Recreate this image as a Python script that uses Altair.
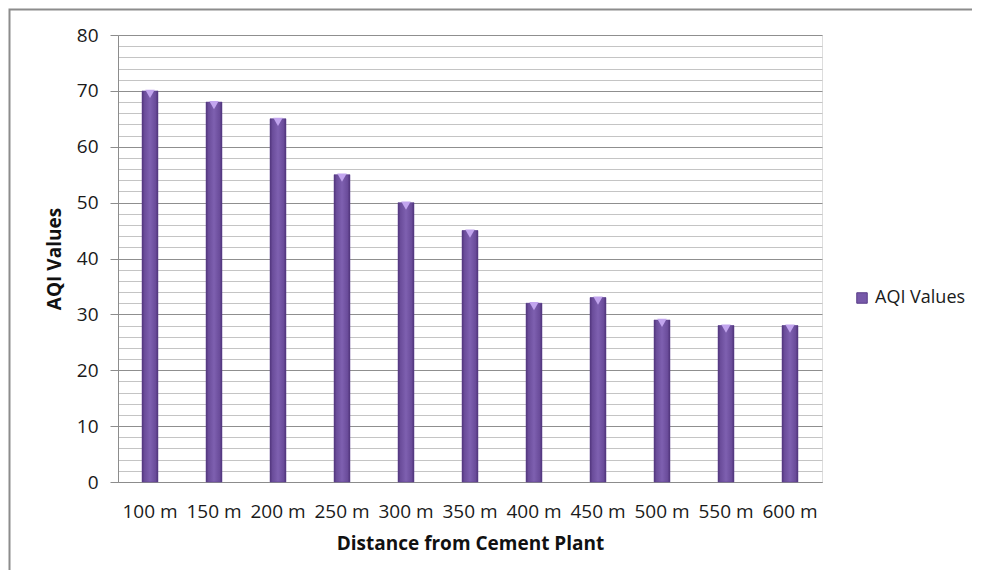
import altair as alt
import pandas as pd

distances = ["100 m", "150 m", "200 m", "250 m", "300 m", "350 m",
             "400 m", "450 m", "500 m", "550 m", "600 m"]
aqi_values = [70, 68, 65, 55, 50, 45, 32, 33, 29, 28, 28]
series_name = "AQI Values"

df = pd.DataFrame({"distance": distances, "aqi": aqi_values,
                   "series": [series_name] * len(distances)})

FONT = "Open Sans"
W, H = 704, 447

x_enc = alt.X("distance:N", sort=distances, title="Distance from Cement Plant",
              scale=alt.Scale(paddingInner=0, paddingOuter=0),
              axis=alt.Axis(labelAngle=0, labelFontSize=19, labelColor="#1a1a1a",
                            labelFont=FONT, labelPadding=20, ticks=False,
                            labelOverlap=False,
                            domainColor="#8c8c8c", titleFontSize=19,
                            titleFont=FONT, titleFontWeight="bold",
                            titleColor="#111", titlePadding=13, grid=False))
y_enc = alt.Y("aqi:Q", title="AQI Values",
              scale=alt.Scale(domain=[0, 80], nice=False),
              axis=alt.Axis(values=list(range(0, 81, 2)), tickCount=41,
                            labelOverlap=False,
                            labelExpr="datum.value % 10 === 0 ? datum.label : ''",
                            gridColor={"expr": "datum.value % 10 === 0 ? '#8f8f8f' : '#c4c4c4'"},
                            tickColor={"expr": "datum.value % 10 === 0 ? '#8c8c8c' : 'transparent'"},
                            tickSize=8, labelPadding=12, labelFontSize=19,
                            labelFont=FONT, labelColor="#1a1a1a",
                            domainColor="#8c8c8c", titleFontSize=19,
                            titleFont=FONT, titleFontWeight="bold", titleColor="#111",
                            titlePadding=12))

base = alt.Chart(df)

legend_bars = base.mark_bar(size=16).encode(
    x=x_enc, y=y_enc,
    color=alt.Color("series:N", scale=alt.Scale(range=["#7759a9"]),
                    legend=alt.Legend(title=None, orient="none", legendX=735,
                                      legendY=254, symbolType="square",
                                      symbolSize=110, labelFontSize=18,
                                      labelFont=FONT, labelColor="#1a1a1a",
                                      labelOffset=4,
                                      symbolStrokeColor="#5a3e88", symbolStrokeWidth=1))
)

grad = alt.Gradient(
    gradient="linear", x1=0, x2=1, y1=0, y2=0,
    stops=[alt.GradientStop(offset=0, color="#4f3478"),
           alt.GradientStop(offset=0.15, color="#6a4c9a"),
           alt.GradientStop(offset=0.5, color="#7e60b0"),
           alt.GradientStop(offset=0.85, color="#6a4c9a"),
           alt.GradientStop(offset=1, color="#4d3275")])

bars = base.mark_bar(size=16, color=grad, stroke="#5d4290", strokeWidth=0.5).encode(
    x=alt.X("distance:N", sort=distances), y="aqi:Q")

caps = base.mark_point(shape="triangle-down", filled=True, size=90,
                       color="#c2a5ee", opacity=1, yOffset=3).encode(
    x=alt.X("distance:N", sort=distances), y="aqi:Q")

border = alt.Chart(pd.DataFrame({"a": [0]})).mark_rect(
    fill=None, stroke="#8c8c8c", strokeWidth=2, clip=False).encode(
    x=alt.value(-108.5), x2=alt.value(W + 300),
    y=alt.value(-25.5), y2=alt.value(H + 300))

chart = alt.layer(legend_bars, bars, caps, border).properties(
    width=W, height=H,
    autosize=alt.AutoSizeParams(type="none"),
    padding={"left": 110, "top": 27, "right": 150, "bottom": 88},
).configure_view(stroke=None).configure(background="white")

chart.save("out.html", embed_options={"renderer": "svg", "actions": False})
